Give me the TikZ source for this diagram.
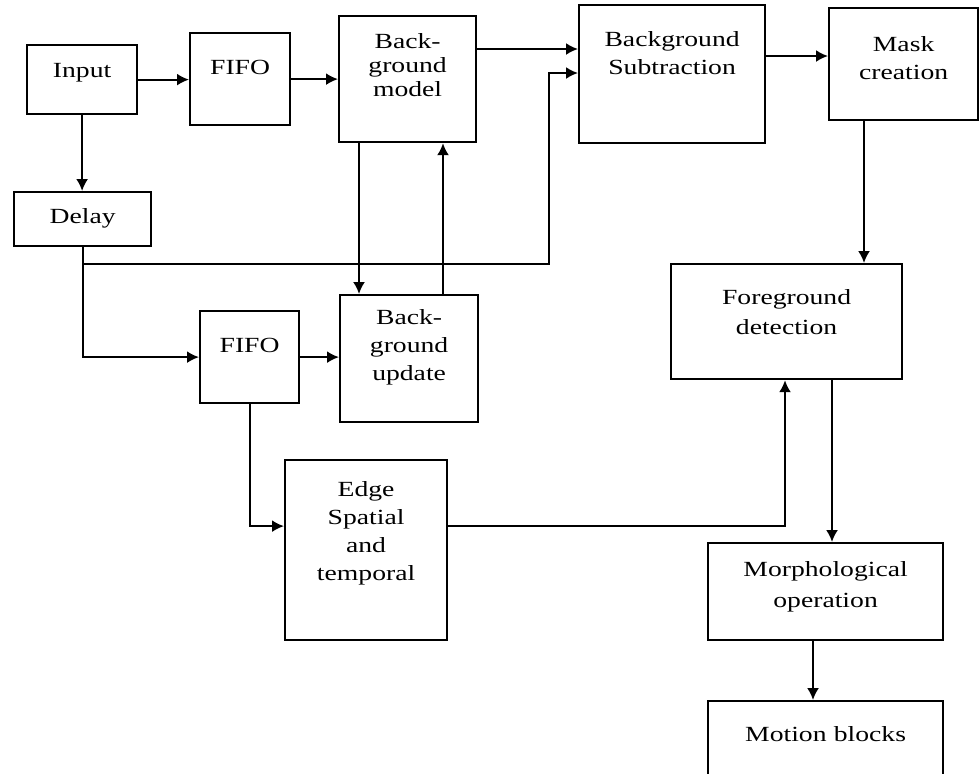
\documentclass[tikz,border=0pt]{standalone}
\usepackage{fontspec}
\setmainfont{Liberation Serif}[FakeStretch=1.28]
\usetikzlibrary{arrows.meta}

\begin{document}
\begin{tikzpicture}[
    x=0.5pt, y=-0.5pt,
    blk/.style={draw, line width=1.1pt, inner sep=0pt, anchor=north west,
                align=center, font=\fontsize{10.8}{14}\selectfont},
    dims/.style n args={3}{text width=#1, text height=#2, text depth=#3},
    arrow/.style={-{Latex[length=6pt, width=6pt]}, line width=1pt},
  ]
  \clip (0,0) rectangle (979,773);
  % upper row
  \node[blk, dims={55pt}{16pt}{18.5pt}] (inp) at (26,44) {Input};
  \node[blk, dims={50pt}{20.5pt}{25.5pt}] (fifoA) at (189,32) {FIFO};
  \node[blk, dims={68.5pt}{16pt}{47pt}, font=\fontsize{10.8}{12}\selectfont]
    (bgmodel) at (338,15) {Back-\\ground\\model};
  \node[blk, dims={93pt}{20.5pt}{48.5pt}] (bgsub) at (578,4)
    {Background\\Subtraction};
  \node[blk, dims={74.5pt}{21.5pt}{34.5pt}] (mask) at (828,7)
    {Mask\\creation};
  % delay branch
  \node[blk, dims={68.5pt}{15.5pt}{11.5pt}] (delay) at (13,191) {Delay};
  \node[blk, dims={49.5pt}{20.5pt}{25.5pt}] (fifoB) at (199,310) {FIFO};
  \node[blk, dims={69pt}{14.5pt}{49pt}] (bgupd) at (339,294)
    {Back-\\ground\\update};
  \node[blk, dims={81pt}{18pt}{72pt}] (edge) at (284,459)
    {Edge\\Spatial\\and\\temporal};
  % right column
  \node[blk, dims={115.5pt}{20pt}{37.5pt}, font=\fontsize{10.8}{15}\selectfont]
    (fgdet) at (670,263) {Foreground\\detection};
  \node[blk, dims={117.5pt}{16.5pt}{32pt}, font=\fontsize{10.8}{15.5}\selectfont]
    (morph) at (707,542) {Morphological\\operation};
  \node[blk, dims={117.5pt}{20pt}{25pt}] (motion) at (707,700) {Motion blocks};
  % helper points
  \coordinate (split) at (82,264);
  \coordinate (subin) at (549,73);
  % arrows
  \draw[arrow] (inp.east) -- (inp.east -| fifoA.west);
  \draw[arrow] (fifoA.east) -- (fifoA.east -| bgmodel.west);
  \draw[arrow] (inp.south) -- (inp.south |- delay.north);
  \draw[arrow] ([yshift=-17pt]bgmodel.north east)
    -- ([yshift=-17pt]bgmodel.north east -| bgsub.west);
  \draw[arrow] ([yshift=-26pt]bgsub.north east)
    -- ([yshift=-26pt]bgsub.north east -| mask.west);
  \draw[arrow] ([xshift=18pt]mask.south west)
    -- ([xshift=18pt]mask.south west |- fgdet.north);
  \draw[arrow] (delay.south) |- (fifoB.west);
  \draw[arrow] (split) -| (subin) -- (subin -| bgsub.west);
  \draw[arrow] ([xshift=10.5pt]bgmodel.south west)
    -- ([xshift=10.5pt]bgmodel.south west |- bgupd.north);
  \draw[arrow] ([xshift=52pt]bgupd.north west)
    -- ([xshift=52pt]bgupd.north west |- bgmodel.south);
  \draw[arrow] (fifoB.east) -- (fifoB.east -| bgupd.west);
  \draw[arrow] (fifoB.south) |- ([yshift=12pt]edge.west);
  \draw[arrow] ([yshift=12pt]edge.east) -| ([xshift=57.5pt]fgdet.south west);
  \draw[arrow] ([xshift=81pt]fgdet.south west)
    -- ([xshift=81pt]fgdet.south west |- morph.north);
  \draw[arrow] ([xshift=53pt]morph.south west)
    -- ([xshift=53pt]morph.south west |- motion.north);
\end{tikzpicture}
\end{document}
